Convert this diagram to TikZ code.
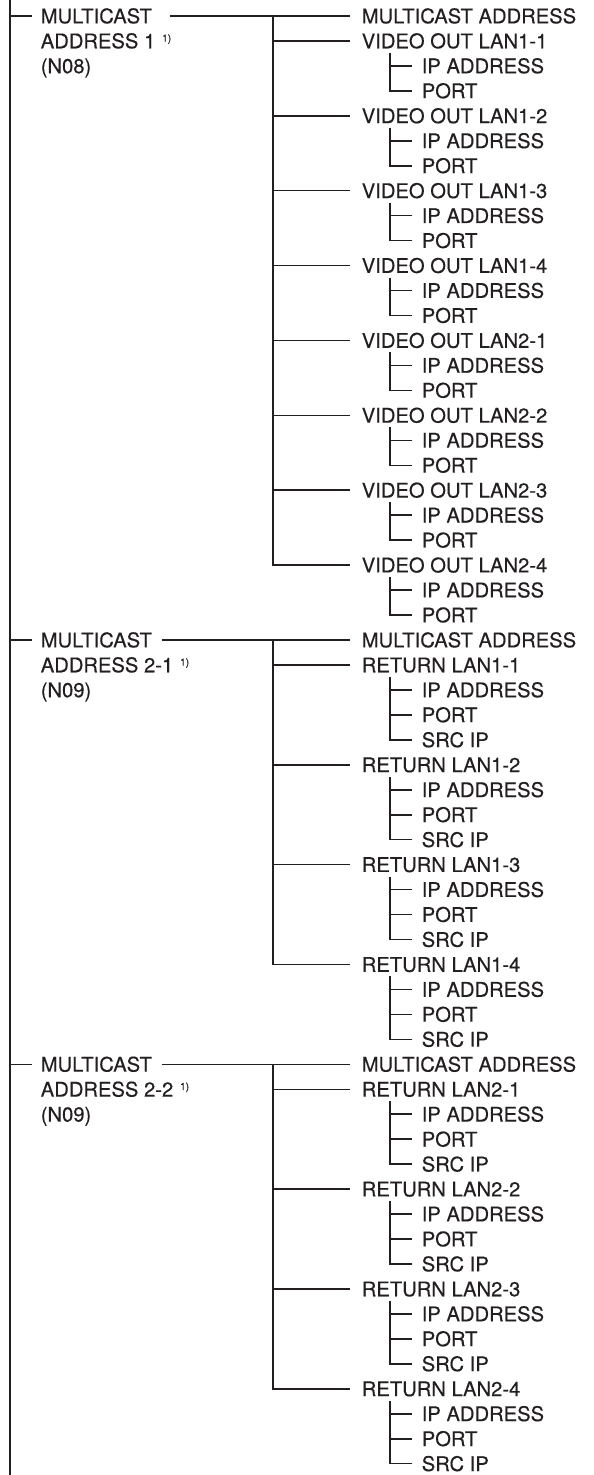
\documentclass[tikz,border=0pt]{standalone}
\usepackage{fontspec}
\setmainfont{TeX Gyre Heros}[BoldFont=TeX Gyre Heros,BoldFeatures={FakeBold=0.35}]
\usetikzlibrary{calc}
\definecolor{ink}{HTML}{231F20}
\newcommand\mylab[5]{%
  \pgfmathsetmacro\yy{16+24.96*(#3)}%
  \node[lbl] (#1) at (#2,\yy+7.3) {#5};%
  \coordinate (#1-in) at ({#2-#4},\yy);%
}
\newcommand\supone{\raisebox{6.6pt}{\fontsize{10}{10}\selectfont 1)}}
\begin{document}
\begin{tikzpicture}[x=1pt,y=-1pt,line width=1.55pt,draw=ink,
  lbl/.style={anchor=base west,inner sep=0pt,font=\fontsize{20.2}{24}\selectfont\bfseries,text=ink}]
\useasboundingbox (0,0) rectangle (594,1475);
% main spine
\coordinate (sptop) at (10,0);
\coordinate (spbot) at (10,1475);
\draw (sptop) -- (spbot);

% ---------------- group 1
\mylab{g1a}{40}{0}{8}{MULTICAST}
\mylab{g1b}{40}{1}{8}{ADDRESS 1\hspace{7pt}\supone}
\mylab{g1c}{40}{2}{8}{(N08)}
\draw (sptop |- g1a-in) -- (g1a-in);
\mylab{m1}{361}{0}{11}{MULTICAST ADDRESS}
\draw ($(g1a.east |- g1a-in)+(17,0)$) -- (m1-in);
\coordinate (s1) at (273,16);
\foreach \k/\t in {1/LAN1-1,2/LAN1-2,3/LAN1-3,4/LAN1-4,5/LAN2-1,6/LAN2-2,7/LAN2-3,8/LAN2-4}{
  \pgfmathtruncatemacro\r{1+3*(\k-1)}
  \mylab{v\k}{361}{\r}{11}{VIDEO OUT \t}
  \mylab{v\k-ip}{421}{\r+1}{9}{IP ADDRESS}
  \mylab{v\k-pt}{421}{\r+2}{9}{PORT}
  \pgfmathsetmacro\ys{16+24.96*\r+12}
  \coordinate (v\k-s) at (390,\ys);
  \draw (v\k-s) |- (v\k-pt-in);
  \draw (v\k-s |- v\k-ip-in) -- (v\k-ip-in);
  \draw (s1 |- v\k-in) -- (v\k-in);
}
\draw (s1) |- (v8-in);

% ---------------- group 2
\mylab{g2a}{40}{25}{8}{MULTICAST}
\mylab{g2b}{40}{26}{8}{ADDRESS 2-1\hspace{7pt}\supone}
\mylab{g2c}{40}{27}{8}{(N09)}
\draw (sptop |- g2a-in) -- (g2a-in);
\mylab{m2}{361}{25}{11}{MULTICAST ADDRESS}
\draw ($(g2a.east |- g2a-in)+(9,0)$) -- (m2-in);
\coordinate (s2) at (s1 |- m2-in);
\foreach \k in {1,2,3,4}{
  \pgfmathtruncatemacro\r{26+4*(\k-1)}
  \mylab{ra\k}{361}{\r}{11}{RETURN LAN1-\k}
  \mylab{ra\k-ip}{421}{\r+1}{9}{IP ADDRESS}
  \mylab{ra\k-pt}{421}{\r+2}{9}{PORT}
  \mylab{ra\k-sr}{421}{\r+3}{9}{SRC IP}
  \pgfmathsetmacro\ys{16+24.96*\r+12}
  \coordinate (ra\k-s) at (390,\ys);
  \draw (ra\k-s) |- (ra\k-sr-in);
  \draw (ra\k-s |- ra\k-ip-in) -- (ra\k-ip-in);
  \draw (ra\k-s |- ra\k-pt-in) -- (ra\k-pt-in);
  \draw (s2 |- ra\k-in) -- (ra\k-in);
}
\draw (s2) |- (ra4-in);

% ---------------- group 3
\mylab{g3a}{40}{42}{8}{MULTICAST}
\mylab{g3b}{40}{43}{8}{ADDRESS 2-2\hspace{7pt}\supone}
\mylab{g3c}{40}{44}{8}{(N09)}
\draw (sptop |- g3a-in) -- (g3a-in);
\mylab{m3}{361}{42}{11}{MULTICAST ADDRESS}
\draw ($(g3a.east |- g3a-in)+(9,0)$) -- (m3-in);
\coordinate (s3) at (s1 |- m3-in);
\foreach \k in {1,2,3,4}{
  \pgfmathtruncatemacro\r{43+4*(\k-1)}
  \mylab{rb\k}{361}{\r}{11}{RETURN LAN2-\k}
  \mylab{rb\k-ip}{421}{\r+1}{9}{IP ADDRESS}
  \mylab{rb\k-pt}{421}{\r+2}{9}{PORT}
  \mylab{rb\k-sr}{421}{\r+3}{9}{SRC IP}
  \pgfmathsetmacro\ys{16+24.96*\r+12}
  \coordinate (rb\k-s) at (390,\ys);
  \draw (rb\k-s) |- (rb\k-sr-in);
  \draw (rb\k-s |- rb\k-ip-in) -- (rb\k-ip-in);
  \draw (rb\k-s |- rb\k-pt-in) -- (rb\k-pt-in);
  \draw (s3 |- rb\k-in) -- (rb\k-in);
}
\draw (s3) |- (rb4-in);
\end{tikzpicture}
\end{document}
